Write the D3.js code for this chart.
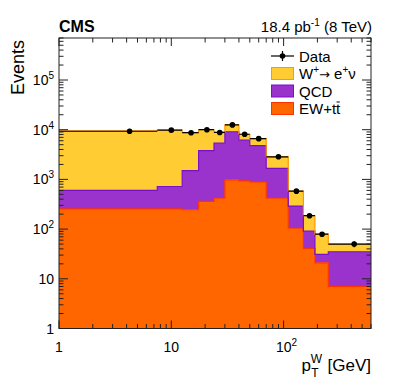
<!DOCTYPE html>
<html>
<head>
<meta charset="utf-8">
<script src="https://cdn.jsdelivr.net/npm/d3@7"></script>
<style>
  body { margin: 0; background: #fff; }
  text { font-family: "Liberation Sans", Arial, Helvetica, sans-serif; fill: #000; }
</style>
</head>
<body>
<div id="chart"></div>
<script>
// bin edges in pT(W) [GeV]; first bin drawn from 1 on the log axis
var binEdges = [1, 7.5, 12.5, 17.5, 24, 30, 40, 50, 70, 110, 150, 190, 250, 600];

// stacked components, events per bin
var ewTtbar = [255, 255, 245, 360, 420, 980, 930, 890, 420, 104, 41, 21, 7];
var qcd     = [345, 465, 1255, 3440, 4980, 8120, 5270, 3910, 1250, 186, 50, 10, 28];
var wSignal = [8900, 9080, 7200, 6200, 3400, 3400, 1900, 1800, 1180, 290, 95, 48, 15];
var dataEvents = [9300, 9800, 8700, 10000, 8800, 12500, 8100, 6600, 2850, 580, 186, 79, 50];

var xTickLabels = [[1, "1"], [10, "10"], [100, "10", "2"]];
var yTickLabels = [[1, "1"], [10, "10"], [100, "10", "2"], [1e3, "10", "3"], [1e4, "10", "4"], [1e5, "10", "5"]];

var W = 399, H = 387;
var margin = { top: 38, right: 28, bottom: 58.5, left: 59 };
var x0 = margin.left, x1 = W - margin.right, yTop = margin.top, yBot = H - margin.bottom;

var svg = d3.select("#chart").append("svg").attr("width", W).attr("height", H);

var x = d3.scaleLog().domain([1, 600]).range([x0, x1]);
var y = d3.scaleLog().domain([1, 7e5]).range([yBot, yTop]).clamp(true);

var layers = [
  { key: "ew", values: ewTtbar, fill: "#ff6600", line: "#ff3300" },
  { key: "qcd", values: qcd, fill: "#9933cc", line: "#7a10c8" },
  { key: "w", values: wSignal, fill: "#ffcc33", line: "#ff9900" }
];

var rows = binEdges.slice(0, -1).map(function(lo, i) {
  var r = { lo: lo, hi: binEdges[i + 1] };
  layers.forEach(function(l) { r[l.key] = l.values[i]; });
  return r;
});

var stacked = d3.stack().keys(layers.map(function(l) { return l.key; }))(rows);

svg.append("clipPath").attr("id", "plotclip")
  .append("rect").attr("x", x0).attr("y", yTop).attr("width", x1 - x0).attr("height", yBot - yTop);

var plot = svg.append("g").attr("clip-path", "url(#plotclip)");

function stepPoints(series) {
  var pts = series.map(function(d) { return { x: d.data.lo, y0: d[0], y1: d[1] }; });
  var last = series[series.length - 1];
  pts.push({ x: last.data.hi, y0: last[0], y1: last[1] });
  return pts;
}

var area = d3.area()
  .curve(d3.curveStepAfter)
  .x(function(d) { return x(d.x); })
  .y0(function(d) { return d.y0 > 0 ? y(d.y0) : yBot + 2; })
  .y1(function(d) { return y(d.y1); });

var topLine = d3.line()
  .curve(d3.curveStepAfter)
  .x(function(d) { return x(d.x); })
  .y(function(d) { return y(d.y1); });

// draw top layer first so lower outlines sit above
stacked.slice().reverse().forEach(function(s) {
  var l = layers[s.index];
  plot.append("path").attr("d", area(stepPoints(s))).attr("fill", l.fill);
});
stacked.forEach(function(s) {
  var l = layers[s.index];
  plot.append("path").attr("d", topLine(stepPoints(s)))
    .attr("fill", "none").attr("stroke", l.line).attr("stroke-width", 1.2);
});

// data points with error bars
var dg = plot.selectAll(".pt").data(rows).enter().append("g").attr("class", "pt");
dg.append("line")
  .attr("x1", function(d) { return x(d.lo); })
  .attr("x2", function(d) { return x(d.hi); })
  .attr("y1", function(d, i) { return y(dataEvents[i]); })
  .attr("y2", function(d, i) { return y(dataEvents[i]); })
  .attr("stroke", "#000").attr("stroke-width", 1.2);
dg.append("line")
  .attr("x1", function(d) { return x((d.lo + d.hi) / 2); })
  .attr("x2", function(d) { return x((d.lo + d.hi) / 2); })
  .attr("y1", function(d, i) { return y(dataEvents[i] + Math.sqrt(dataEvents[i])); })
  .attr("y2", function(d, i) { return y(dataEvents[i] - Math.sqrt(dataEvents[i])); })
  .attr("stroke", "#000").attr("stroke-width", 1.2);
dg.append("circle")
  .attr("cx", function(d) { return x((d.lo + d.hi) / 2); })
  .attr("cy", function(d, i) { return y(dataEvents[i]); })
  .attr("r", 2.8).attr("fill", "#000");

// frame and ticks
var axes = svg.append("g");
axes.append("rect").attr("x", x0).attr("y", yTop).attr("width", x1 - x0).attr("height", yBot - yTop)
  .attr("fill", "none").attr("stroke", "#222").attr("stroke-width", 1);

function isMajor(v) { return Math.abs(Math.log10(v) - Math.round(Math.log10(v))) < 1e-6; }

x.ticks().forEach(function(v) {
  var len = isMajor(v) ? 8 : 4.5, px = x(v);
  axes.append("line").attr("x1", px).attr("x2", px).attr("y1", yBot).attr("y2", yBot - len).attr("stroke", "#222");
  axes.append("line").attr("x1", px).attr("x2", px).attr("y1", yTop).attr("y2", yTop + len).attr("stroke", "#222");
});
y.ticks().forEach(function(v) {
  var len = isMajor(v) ? 9 : 4.5, py = y(v);
  axes.append("line").attr("y1", py).attr("y2", py).attr("x1", x0).attr("x2", x0 + len).attr("stroke", "#222");
  axes.append("line").attr("y1", py).attr("y2", py).attr("x1", x1).attr("x2", x1 - len).attr("stroke", "#222");
});

function powLabel(g, t, px, py, anchor) {
  var txt = g.append("text").attr("x", px).attr("y", py).attr("text-anchor", anchor).style("font-size", "14px");
  txt.append("tspan").text(t[1]);
  if (t[2]) txt.append("tspan").attr("dy", -6).style("font-size", "10px").text(t[2]);
  return txt;
}

xTickLabels.forEach(function(t) {
  powLabel(axes, t, x(t[0]) + (t[2] ? 3 : 0), yBot + 23, "middle");
});
yTickLabels.forEach(function(t) {
  powLabel(axes, t, x0 - 5, y(t[0]) + 5, "end");
});

// axis titles
axes.append("text").attr("transform", "translate(24," + (yTop + 2) + ") rotate(-90)")
  .attr("text-anchor", "end").style("font-size", "18px").text("Events");

var xt = axes.append("text").attr("x", x1).attr("y", H - 16).attr("text-anchor", "end").style("font-size", "17px");
xt.append("tspan").text("p");
xt.append("tspan").attr("dy", -8).attr("dx", 0).style("font-size", "12px").text("W");
xt.append("tspan").attr("dy", 14).attr("dx", -11).style("font-size", "12px").text("T");
xt.append("tspan").attr("dy", -6).attr("dx", 9).text("[GeV]");

// header
svg.append("text").attr("x", x0).attr("y", 32).style("font-size", "16px").style("font-weight", "bold").text("CMS");
var lumi = svg.append("text").attr("x", x1 + 1).attr("y", 32).attr("text-anchor", "end").style("font-size", "15px");
lumi.append("tspan").text("18.4 pb");
lumi.append("tspan").attr("dy", -6).style("font-size", "10px").text("-1");
lumi.append("tspan").attr("dy", 6).text(" (8 TeV)");

// legend
var leg = svg.append("g").attr("transform", "translate(271,48)");
var legRows = [
  { label: "data" }, { layer: layers[2] }, { layer: layers[1] }, { layer: layers[0] }
];
var rowH = 17.5;
legRows.forEach(function(r, i) {
  var g = leg.append("g").attr("transform", "translate(0," + (i * rowH) + ")");
  if (r.layer) {
    g.append("rect").attr("x", 0.5).attr("y", 2).attr("width", 22).attr("height", 12)
      .attr("fill", r.layer.fill).attr("stroke", r.layer.line).attr("stroke-width", 1);
  } else {
    g.append("line").attr("x1", 0).attr("x2", 23).attr("y1", 8).attr("y2", 8).attr("stroke", "#000").attr("stroke-width", 1.2);
    g.append("line").attr("x1", 11.5).attr("x2", 11.5).attr("y1", 3).attr("y2", 13).attr("stroke", "#000").attr("stroke-width", 1.2);
    g.append("circle").attr("cx", 11.5).attr("cy", 8).attr("r", 2.8).attr("fill", "#000");
  }
});
function legText(i) {
  return leg.append("text").attr("x", 28).attr("y", i * rowH + 13.5).style("font-size", "15px");
}
legText(0).text("Data");
var wl = legText(1);
wl.append("tspan").text("W");
wl.append("tspan").attr("dy", -6).style("font-size", "10px").text("+");
wl.append("tspan").attr("dy", 6).style("font-family", "DejaVu Sans").style("font-size", "13px").text("\u2192");
wl.append("tspan").text(" e");
wl.append("tspan").attr("dy", -6).style("font-size", "10px").text("+");
wl.append("tspan").attr("dy", 6).text("\u03bd");
legText(2).text("QCD");
var ew = legText(3).text("EW+tt");
var full = ew.node().getComputedTextLength();
var tw = ew.node().getSubStringLength(4, 1);
leg.append("line").attr("x1", 28 + full - tw + 0.5).attr("x2", 28 + full - 0.5)
  .attr("y1", 3 * rowH + 1.5).attr("y2", 3 * rowH + 1.5).attr("stroke", "#000").attr("stroke-width", 1);
</script>
</body>
</html>
